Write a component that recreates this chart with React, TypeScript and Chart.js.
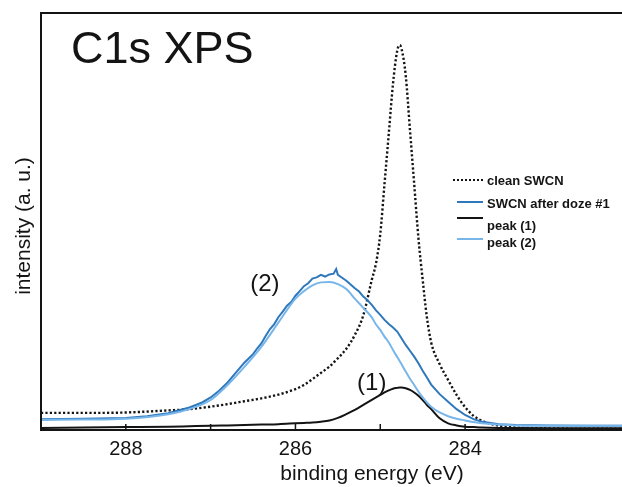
import { useEffect, useRef } from "react";
import { Chart, registerables } from "chart.js";

Chart.register(...registerables);

// Binding-energy grid (eV) shared by the clean spectrum and the two fitted components
const energyGrid = [
  289.0, 288.5, 288.0, 287.5, 287.25, 287.0, 286.8, 286.6, 286.4, 286.2, 286.0, 285.9,
  285.8, 285.7, 285.6, 285.5, 285.4, 285.3, 285.2, 285.1, 285.05, 285.0, 284.95, 284.9,
  284.85, 284.8, 284.77, 284.75, 284.7, 284.65, 284.6, 284.55, 284.5, 284.45, 284.4,
  284.3, 284.2, 284.1, 284.0, 283.9, 283.8, 283.6, 283.4, 283.0, 282.5, 282.15,
];

// Clean SWCN C1s spectrum (a. u.)
const cleanSWCN = [
  4.1, 4.1, 4.2, 4.7, 5.0, 5.6, 6.2, 6.9, 7.6, 8.5, 9.8, 10.8,
  12.2, 13.7, 15.2, 17.2, 19.5, 22.8, 27.5, 36, 40, 47, 59, 71,
  83, 91, 92.3, 91.5, 85, 72, 59, 46, 36, 27, 21,
  15.8, 12.0, 8.4, 5.5, 3.4, 2.2, 1.0, 0.6, 0.4, 0.3, 0.3,
];

// Fitted component (1)
const peak1 = [
  0.5, 0.6, 0.7, 0.8, 0.9, 1.0, 1.1, 1.2, 1.3, 1.4, 1.6, 1.7,
  1.8, 2.0, 2.3, 2.9, 3.8, 4.8, 6.0, 7.2, 7.8, 8.4, 9.0, 9.5,
  9.9, 10.1, 10.2, 10.2, 10.0, 9.6, 9.0, 8.2, 7.2, 6.0, 5.0,
  2.8, 1.6, 1.1, 0.8, 0.7, 0.6, 0.5, 0.45, 0.4, 0.4, 0.4,
];

// Fitted component (2)
const peak2 = [
  2.4, 2.5, 2.7, 3.8, 5.0, 7.2, 10.8, 15.2, 20.0, 25.8, 31.5, 33.3,
  34.7, 35.4, 35.5, 35.0, 33.8, 31.5, 29.3, 27.0, 25.3, 24.0, 22.4, 21.0,
  19.2, 17.5, 16.5, 15.8, 14.0, 12.3, 10.8, 9.2, 7.8, 6.6, 5.6,
  4.2, 3.3, 2.7, 2.3, 1.9, 1.6, 1.3, 1.1, 1.0, 1.0, 1.0,
];

// Measured spectrum after the first dose (finer sampling, raw data)
const dozeEnergy = [
  289.0, 288.5, 288.0, 287.75, 287.5, 287.25, 287.1, 287.0, 286.9, 286.8, 286.7, 286.6,
  286.5, 286.45, 286.4, 286.35, 286.3, 286.25, 286.2, 286.15, 286.1, 286.05, 286.0, 285.95,
  285.9, 285.85, 285.8, 285.75, 285.7, 285.65, 285.6, 285.55, 285.52, 285.5, 285.45, 285.4,
  285.35, 285.3, 285.25, 285.2, 285.15, 285.1, 285.05, 285.0, 284.95, 284.9, 284.85, 284.8,
  284.75, 284.7, 284.65, 284.6, 284.55, 284.5, 284.45, 284.4, 284.3, 284.2, 284.1, 284.0,
  283.9, 283.8, 283.6, 283.4, 283.0, 282.5, 282.15,
];
const dozeSWCN = [
  2.6, 2.7, 2.9, 3.3, 4.0, 5.4, 6.6, 7.8, 9.4, 11.4, 13.8, 16.2,
  18.2, 19.6, 20.8, 22.6, 24.2, 25.4, 27.1, 28.4, 29.8, 30.7, 32.2, 33.3,
  34.5, 35.2, 36.3, 36.6, 37.2, 36.8, 37.3, 37.5, 38.6, 37.2, 36.5, 35.8,
  34.9, 34.0, 33.2, 32.0, 31.1, 30.0, 28.7, 27.6, 26.4, 25.4, 24.6, 23.6,
  22.0, 20.4, 19.0, 17.6, 16.0, 14.2, 12.6, 10.9, 8.6, 6.8, 5.0, 3.6,
  2.6, 2.0, 1.4, 1.2, 1.1, 1.0, 1.0,
];

// Axis ticks and texts
const xTicks = [288, 287, 286, 285, 284];
const xTickLabels = ["288", "", "286", "", "284"];
const xTitle = "binding energy (eV)";
const yTitle = "intensity (a. u.)";
const plotTitle = "C1s XPS";
const seriesLabels = ["clean SWCN", "SWCN after doze #1", "peak (1)", "peak (2)"];

const FONT = '"Liberation Sans", Arial, Helvetica, sans-serif';
const DOZE_BLUE = "#2f78bb";
const PEAK2_BLUE = "#78b6ea";
const INK = "#141414";

const toPoints = (xs: number[], ys: number[]) => xs.map((x, i) => ({ x, y: ys[i] }));

const decorPlugin = {
  id: "xpsDecor",
  afterDraw(chart: any) {
    const { ctx, chartArea: a, scales } = chart;
    const xs = scales.x;
    const ys = scales.y;
    ctx.save();

    // frame: top, left and bottom axis
    ctx.strokeStyle = INK;
    ctx.lineWidth = 2;
    ctx.setLineDash([]);
    ctx.beginPath();
    ctx.moveTo(a.right, a.top);
    ctx.lineTo(a.left, a.top);
    ctx.lineTo(a.left, a.bottom);
    ctx.lineTo(a.right, a.bottom);
    ctx.stroke();

    // inward tick marks and labels
    ctx.lineWidth = 1.5;
    ctx.fillStyle = INK;
    ctx.font = `20px ${FONT}`;
    ctx.textAlign = "center";
    ctx.textBaseline = "middle";
    xTicks.forEach((v, i) => {
      const px = xs.getPixelForValue(v);
      ctx.beginPath();
      ctx.moveTo(px, a.bottom);
      ctx.lineTo(px, a.bottom - 6);
      ctx.stroke();
      if (xTickLabels[i]) ctx.fillText(xTickLabels[i], px, a.bottom + 19);
    });

    // axis titles
    ctx.font = `21px ${FONT}`;
    ctx.textBaseline = "alphabetic";
    ctx.fillText(xTitle, 372, a.bottom + 50);
    ctx.save();
    ctx.translate(30, 226);
    ctx.rotate(-Math.PI / 2);
    ctx.textBaseline = "alphabetic";
    ctx.fillText(yTitle, 0, 0);
    ctx.restore();

    // plot title
    ctx.font = `45px ${FONT}`;
    ctx.textAlign = "left";
    ctx.fillText(plotTitle, 71, 63);

    // peak annotations
    ctx.font = `24px ${FONT}`;
    ctx.textAlign = "center";
    ctx.textBaseline = "middle";
    ctx.fillText("(2)", xs.getPixelForValue(286.36), ys.getPixelForValue(35));
    ctx.fillText("(1)", xs.getPixelForValue(285.1), ys.getPixelForValue(11.3));

    // legend
    const legendRows = [
      { label: seriesLabels[0], color: INK, dash: [2, 2], x0: 453, ly: 180, ty: 181 },
      { label: seriesLabels[1], color: DOZE_BLUE, dash: [], x0: 457, ly: 202, ty: 204 },
      { label: seriesLabels[2], color: INK, dash: [], x0: 457, ly: 218, ty: 226 },
      { label: seriesLabels[3], color: PEAK2_BLUE, dash: [], x0: 457, ly: 239, ty: 243 },
    ];
    ctx.font = `bold 13px ${FONT}`;
    ctx.textAlign = "left";
    ctx.textBaseline = "middle";
    legendRows.forEach((r) => {
      ctx.strokeStyle = r.color;
      ctx.lineWidth = 2;
      ctx.setLineDash(r.dash);
      ctx.beginPath();
      ctx.moveTo(r.x0, r.ly);
      ctx.lineTo(483, r.ly);
      ctx.stroke();
      ctx.setLineDash([]);
      ctx.fillStyle = INK;
      ctx.fillText(r.label, 487, r.ty);
    });

    ctx.restore();
  },
};

export default function App() {
  const canvasRef = useRef<HTMLCanvasElement | null>(null);

  useEffect(() => {
    const canvas = canvasRef.current;
    if (!canvas) return;
    const chart = new Chart(canvas, {
      type: "line",
      data: {
        datasets: [
          {
            label: seriesLabels[3],
            data: toPoints(energyGrid, peak2),
            borderColor: PEAK2_BLUE,
            borderWidth: 2,
            pointRadius: 0,
            cubicInterpolationMode: "monotone",
          },
          {
            label: seriesLabels[1],
            data: toPoints(dozeEnergy, dozeSWCN),
            borderColor: DOZE_BLUE,
            borderWidth: 2,
            pointRadius: 0,
            tension: 0,
          },
          {
            label: seriesLabels[2],
            data: toPoints(energyGrid, peak1),
            borderColor: INK,
            borderWidth: 2,
            pointRadius: 0,
            cubicInterpolationMode: "monotone",
          },
          {
            label: seriesLabels[0],
            data: toPoints(energyGrid, cleanSWCN),
            borderColor: INK,
            borderWidth: 2.4,
            borderDash: [2.2, 2.2],
            pointRadius: 0,
            cubicInterpolationMode: "monotone",
          },
        ],
      },
      options: {
        animation: false,
        responsive: false,
        layout: { padding: { left: 41, top: 13, right: 0, bottom: 57 } },
        scales: {
          x: { type: "linear", reverse: true, min: 282.15, max: 289, display: false },
          y: { type: "linear", min: 0, max: 100, display: false },
        },
        plugins: {
          legend: { display: false },
          tooltip: { enabled: false },
        },
      },
      plugins: [decorPlugin],
    });
    return () => chart.destroy();
  }, []);

  return (
    <div style={{ position: "absolute", left: 0, top: 0, width: 622, height: 487, background: "#fff" }}>
      <canvas ref={canvasRef} width={622} height={487} style={{ display: "block" }} />
    </div>
  );
}
